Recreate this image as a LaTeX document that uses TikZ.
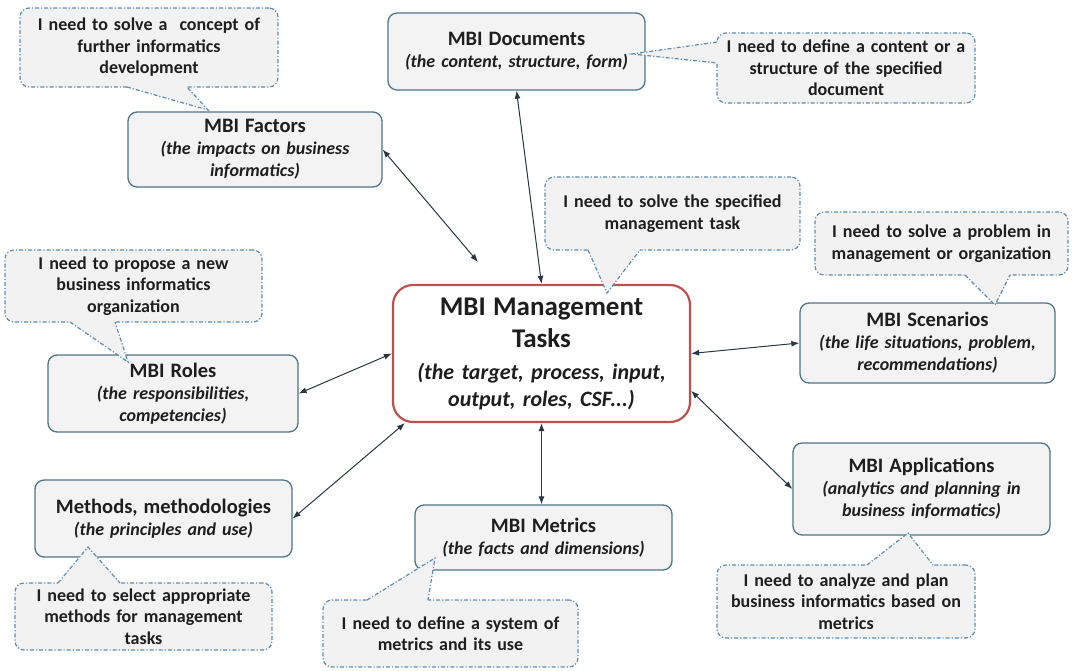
\documentclass[tikz,border=0pt]{standalone}
\usepackage{fontspec}
\setmainfont{Carlito}
\usetikzlibrary{arrows.meta,calc}

\definecolor{boxline}{RGB}{78,118,134}
\definecolor{boxfill}{RGB}{243,243,243}
\definecolor{mainline}{RGB}{192,80,77}
\definecolor{callline}{RGB}{92,140,178}
\definecolor{callfill}{RGB}{242,242,242}
\definecolor{txt}{RGB}{30,30,30}
\definecolor{linkcol}{RGB}{40,55,65}

\newcommand\boxhead[1]{{\fontsize{20.5}{22}\selectfont\upshape #1}}
\newcommand\mainhead[1]{{\fontsize{27}{33}\selectfont\upshape #1}}

% pointer of a speech bubble: base point, tip, base point, inward shift
\newcommand\bubbletail[4]{%
  \fill[callfill] ($#1+#4$) -- #1 -- #2 -- #3 -- ($#3+#4$) -- cycle;
  \draw[calledge] #1 -- #2 -- #3;}

\tikzset{
  mbox/.style={draw=boxline, fill=boxfill, line width=1.3pt, rounded corners=9pt,
    align=center, inner sep=0pt, text=txt,
    font=\fontsize{18}{22}\selectfont\bfseries\itshape},
  mainbox/.style={draw=mainline, fill=white, line width=2.2pt, rounded corners=20pt,
    align=center, inner sep=0pt, text=txt,
    font=\fontsize{22}{27}\selectfont\bfseries\itshape},
  callbox/.style={draw=callline, fill=callfill, line width=1.2pt, rounded corners=9pt,
    dash pattern=on 4pt off 2pt on 1.2pt off 2pt,
    align=center, inner sep=0pt, text=txt,
    font=\fontsize{18}{21.5}\selectfont\bfseries},
  calledge/.style={draw=callline, line width=1.2pt,
    dash pattern=on 4pt off 2pt on 1.2pt off 2pt},
  link/.style={draw=linkcol, line width=1pt,
    {Latex[length=8pt,width=6pt]}-{Latex[length=8pt,width=6pt]}},
}

\begin{document}
\begin{tikzpicture}[x=1pt,y=-1pt]
\useasboundingbox (0,0) rectangle (1073,670);

% concept boxes
\node[mbox, minimum width=257pt, minimum height=77pt, text width=249pt] (doc) at (516.5,51.5)
  {\boxhead{MBI Documents}\\(the content, structure, form)};
\node[mbox, minimum width=254pt, minimum height=75pt, text width=246pt] (fac) at (255,149.5)
  {\boxhead{MBI Factors}\\(the impacts on business\\informatics)};
\node[mainbox, minimum width=297pt, minimum height=137pt, text width=289pt] (main) at (541.5,353.5)
  {\mainhead{MBI Management}\\[5pt]\mainhead{Tasks}\\[5pt](the target, process, input,\\output, roles, CSF...)};
\node[mbox, minimum width=250pt, minimum height=77pt, text width=242pt] (rol) at (173,393.5)
  {\boxhead{MBI Roles}\\(the responsibilities,\\competencies)};
\node[mbox, minimum width=255pt, minimum height=80pt, text width=247pt] (sce) at (927.5,343)
  {\boxhead{MBI Scenarios}\\(the life situations, problem,\\recommendations)};
\node[mbox, minimum width=257pt, minimum height=77pt, text width=249pt] (mth) at (163.5,518.5)
  {\boxhead{Methods, methodologies}\\(the principles and use)};
\node[mbox, minimum width=257pt, minimum height=65pt, text width=249pt] (met) at (543.5,537.5)
  {\boxhead{MBI Metrics}\\(the facts and dimensions)};
\node[mbox, minimum width=257pt, minimum height=92pt, text width=249pt] (app) at (921.5,489)
  {\boxhead{MBI Applications}\\(analytics and planning in\\business informatics)};

% relations to the management tasks
\coordinate (facend) at (478,262);
\draw[link] (doc.south) -- (main.north);
\draw[link] (fac.east) -- (facend);
\draw[link] (rol.east) -- (main.west);
\draw[link] (sce.west) -- (main.east);
\draw[link] (app.west) -- (main.-14.5);
\draw[link] (main.south) -- (main.south |- met.north);
\draw[link] (mth.east) -- (main.207.3);

% speech bubbles
\node[callbox, minimum width=258pt, minimum height=79pt, text width=250pt] (ca) at (149,47.5)
  {I need to solve a\ \ concept of\\further informatics\\development};
\bubbletail{(127,87)}{(208,110)}{(187,87)}{(0,-2)}

\node[callbox, minimum width=258pt, minimum height=70pt, text width=250pt] (cb) at (846,68)
  {I need to define a content or a\\structure of the specified\\document};
\bubbletail{(717,42)}{(632,54)}{(717,63)}{(2,0)}

\node[callbox, minimum width=255pt, minimum height=73pt, text width=247pt] (cc) at (672.5,213.5)
  {I need to solve the specified\\management task};
\bubbletail{(588,250)}{(607,293)}{(640,250)}{(0,-2)}

\node[callbox, minimum width=257pt, minimum height=72pt, text width=249pt] (cd) at (133.5,286)
  {I need to propose a new\\business informatics\\organization};
\bubbletail{(70,322)}{(128,362)}{(115,322)}{(0,-2)}

\node[callbox, minimum width=253pt, minimum height=63pt, text width=245pt] (ce) at (941.5,243.5)
  {I need to solve a problem in\\management or organization};
\bubbletail{(965,275)}{(995,305)}{(1010,275)}{(0,-2)}

\node[callbox, minimum width=257pt, minimum height=67pt, text width=249pt] (cf) at (143.5,616.5)
  {I need to select appropriate\\methods for management\\tasks};
\bubbletail{(58,583)}{(88,547)}{(120,583)}{(0,2)}

\node[callbox, minimum width=255pt, minimum height=67pt, text width=247pt] (cg) at (450.5,633.5)
  {I need to define a system of\\metrics and its use};
\bubbletail{(367,600)}{(435,558)}{(428,600)}{(0,2)}

\node[callbox, minimum width=258pt, minimum height=73pt, text width=250pt] (ch) at (846,601.5)
  {I need to analyze and plan\\business informatics based on\\metrics};
\bubbletail{(867,565)}{(908,533)}{(933,565)}{(0,2)}

\end{tikzpicture}
\end{document}
